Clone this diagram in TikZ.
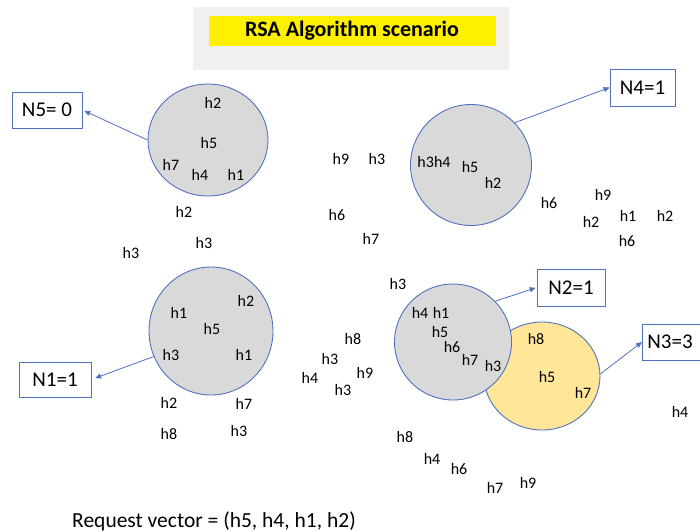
\documentclass[tikz,border=0pt]{standalone}
\usepackage{fontspec}
\setmainfont{Carlito}
\usetikzlibrary{shapes.geometric,arrows.meta}
\definecolor{edgeblue}{RGB}{79,114,190}
\definecolor{cgray}{RGB}{217,217,217}
\definecolor{cyellow}{RGB}{255,230,153}
\definecolor{titleyellow}{RGB}{255,240,0}
\definecolor{titlegray}{RGB}{242,240,238}
\tikzset{
  hl/.style={inner sep=0pt, font=\fontsize{16}{16}\selectfont},
  grcirc/.style={ellipse, draw=edgeblue, line width=0.9pt, fill=cgray, inner sep=0pt},
  yecirc/.style={ellipse, draw=edgeblue, line width=0.9pt, fill=cyellow, inner sep=0pt},
  nbox/.style={draw=edgeblue, line width=0.8pt, fill=white, inner sep=0pt, font=\fontsize{21}{21}\selectfont},
  conn/.style={draw=edgeblue, line width=0.8pt, -{Triangle[length=6pt,width=5pt]}}
}
\begin{document}
\begin{tikzpicture}[x=1pt,y=-1pt]
\useasboundingbox (0,0) rectangle (700,531);
\begin{scope}
\clip (0,0) rectangle (700,531);
% title
\node[fill=titlegray, minimum width=316pt, minimum height=63pt, inner sep=0pt] (tbg) at (351,38.5) {};
\node[fill=titleyellow, minimum width=287pt, minimum height=30pt, inner sep=0pt, font=\fontsize{22}{22}\selectfont\bfseries] (title) at (352,31) {RSA Algorithm scenario};

% circles
\node[grcirc, minimum width=120pt, minimum height=112pt] (c5) at (208,140) {};
\node[grcirc, minimum width=121pt, minimum height=121pt] (c4) at (471,165) {};
\node[grcirc, minimum width=124pt, minimum height=128pt] (c1) at (211,331) {};
\node[yecirc, minimum width=116pt, minimum height=108pt] (c3) at (542,376) {};
\node[grcirc, minimum width=117pt, minimum height=116pt] (c2) at (453,342) {};

% boxes
\node[nbox, minimum width=70pt, minimum height=36pt] (n5) at (47,110) {N5= 0};
\node[nbox, minimum width=65pt, minimum height=37pt] (n4) at (642.5,87.5) {N4=1};
\node[nbox, minimum width=72pt, minimum height=35pt] (n1) at (55,379.5) {N1=1};
\node[nbox, minimum width=68pt, minimum height=37pt] (n2) at (571,287.5) {N2=1};
\node[nbox, minimum width=64pt, minimum height=36pt, anchor=west] (n3) at (642,342) {};
\node[inner sep=0pt, font=\fontsize{21}{21}\selectfont] (n3t) at (670,342) {N3=3};

% connectors
\draw[conn, shorten >=2pt] (c5.180) -- (n5.east);
\draw[conn] (c4.44) -- (n4.west);
\draw[conn, shorten >=4pt] (c1.204) -- (n1.east);
\draw[conn, shorten >=1pt] (c2.44) -- (n2.west);
\draw[conn] (c3.2) -- (n3.west);

% labels in circle 5
\node[hl] (a1) at (213,103) {h2};
\node[hl] (a2) at (209,143) {h5};
\node[hl] (a3) at (171,165) {h7};
\node[hl] (a4) at (200,175) {h4};
\node[hl] (a5) at (236,175) {h1};
% labels in circle 4
\node[hl] (b1) at (434,162) {h3h4};
\node[hl] (b2) at (470,167) {h5};
\node[hl] (b3) at (493,183) {h2};
% labels in circle 1
\node[hl] (d1) at (179,313) {h1};
\node[hl] (d2) at (246,301) {h2};
\node[hl] (d3) at (212,329) {h5};
\node[hl] (d4) at (171,355) {h3};
\node[hl] (d5) at (244,355) {h1};
% labels in circle 2
\node[hl] (e1) at (420,313) {h4};
\node[hl] (e2) at (441,313) {h1};
\node[hl] (e3) at (440,332) {h5};
\node[hl] (e4) at (452,347) {h6};
\node[hl] (e5) at (470,360) {h7};
\node[hl] (e6) at (493,366) {h3};
% labels in circle 3
\node[hl] (f1) at (536,339) {h8};
\node[hl] (f2) at (547,377) {h5};
\node[hl] (f3) at (583,393) {h7};

% scattered labels
\node[hl] (g1) at (184,212) {h2};
\node[hl] (g2) at (204,243) {h3};
\node[hl] (g3) at (131,253) {h3};
\node[hl] (g4) at (341,159) {h9};
\node[hl] (g5) at (377,159) {h3};
\node[hl] (g6) at (337,215) {h6};
\node[hl] (g7) at (371,239) {h7};
\node[hl] (g8) at (549,203) {h6};
\node[hl] (g9) at (603,195) {h9};
\node[hl] (g10) at (591,222) {h2};
\node[hl] (g11) at (628,216) {h1};
\node[hl] (g12) at (665,216) {h2};
\node[hl] (g13) at (627,241) {h6};
\node[hl] (g14) at (169,403) {h2};
\node[hl] (g15) at (244,404) {h7};
\node[hl] (g16) at (169,434) {h8};
\node[hl] (g17) at (239,431) {h3};
\node[hl] (g18) at (398,284) {h3};
\node[hl] (g19) at (353,339) {h8};
\node[hl] (g20) at (330,359) {h3};
\node[hl] (g21) at (365,373) {h9};
\node[hl] (g22) at (310,378) {h4};
\node[hl] (g23) at (343,390) {h3};
\node[hl] (g24) at (680,412) {h4};
\node[hl] (g25) at (405,437) {h8};
\node[hl] (g26) at (432,459) {h4};
\node[hl] (g27) at (459,469) {h6};
\node[hl] (g28) at (495,488) {h7};
\node[hl] (g29) at (528,483) {h9};

% bottom text
\node[inner sep=0pt, anchor=base west, font=\fontsize{21.5}{21.5}\selectfont] (req) at (72,527) {Request vector = (h5, h4, h1, h2)};
\end{scope}
\end{tikzpicture}
\end{document}
